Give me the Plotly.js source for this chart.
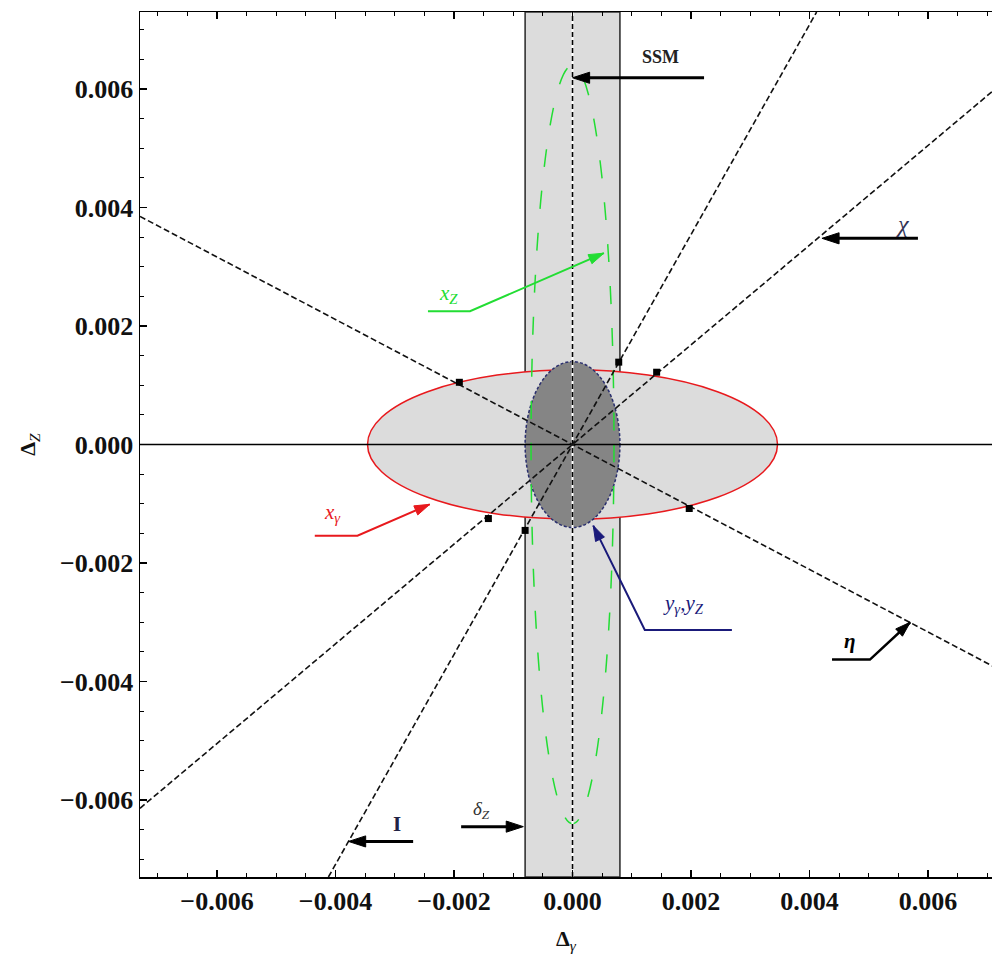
<!DOCTYPE html>
<html>
<head>
<meta charset="utf-8">
<script src="https://cdn.plot.ly/plotly-3.0.1.min.js"></script>
<style>html,body{margin:0;padding:0;background:#fff;}</style>
</head>
<body>
<div id="chart" style="width:992px;height:957px;"></div>
<script>
// ---- data ----
const axisRange = [-0.0073, 0.0073];
const xVisibleMax = 0.00708;
const tickValues = [-0.006, -0.004, -0.002, 0.000, 0.002, 0.004, 0.006];
const tickLabels = ['−0.006', '−0.004', '−0.002', '0.000', '0.002', '0.004', '0.006'];

// delta_Z band bounds
const bandX = [-0.0008, 0.0008];

// ellipses: x_gamma (red), y_gamma,y_Z (dark), x_Z (green dashed)
const ellipseNames = ['x_gamma', 'y_gamma_y_Z', 'x_Z'];
const ellipseCx = [0, 0, 0];
const ellipseCy = [0, 0, 0];
const ellipseRx = [0.00346, 0.0008, 0.0007];
const ellipseRy = [0.00126, 0.0014, 0.0064];

// dashed model lines (endpoints)
const etaX = [-0.0073, 0.0073];
const etaY = [0.00385, -0.00385];
const chiX = [-0.0073, 0.0073];
const chiY = [-0.00614, 0.00614];
const iX = [-0.00412, 0.00412];
const iY = [-0.0073, 0.0073];
const ssmX = [0, 0];
const ssmY = [-0.0073, 0.0073];
const zeroX = [-0.0073, 0.0073];
const zeroY = [0, 0];

// intersection markers
const markX = [-0.00191, 0.00197, 0.00142, -0.00142, 0.00078, -0.00080];
const markY = [0.00105, -0.00108, 0.00122, -0.00125, 0.00139, -0.00145];

// label leaders (tail ... head)
const leaderSSM_X = [0.00222, 0.0];      const leaderSSM_Y = [0.00619, 0.00619];
const leaderChi_X = [0.00583, 0.00421];  const leaderChi_Y = [0.00348, 0.00348];
const leaderXZ_X = [-0.00244, -0.00173, 0.00053]; const leaderXZ_Y = [0.00225, 0.00225, 0.00323];
const leaderXg_X = [-0.00435, -0.00363, -0.00241]; const leaderXg_Y = [-0.00154, -0.00154, -0.00101];
const leaderY_X = [0.00269, 0.00122, 0.00035]; const leaderY_Y = [-0.00313, -0.00313, -0.00137];
const leaderEta_X = [0.00438, 0.00502, 0.00570]; const leaderEta_Y = [-0.00363, -0.00363, -0.0030];
const leaderI_X = [-0.00269, -0.00378]; const leaderI_Y = [-0.0067, -0.0067];
const leaderDz_X = [-0.00188, -0.00083]; const leaderDz_Y = [-0.00645, -0.00645];

// ---- traces ----
const dashBlack = {color: '#111', width: 1.6, dash: '6px,3px'};
function leader(xs, ys, color, width, head) {
  const sizes = xs.map((_, i) => i === xs.length - 1 ? head : 0);
  return {x: xs, y: ys, mode: 'lines+markers', line: {color: color, width: width},
          marker: {symbol: 'arrow', angleref: 'previous', size: sizes, color: color, opacity: 1,
                   line: {width: 1, color: color}},
          hoverinfo: 'skip'};
}
const traces = [
  {x: zeroX, y: zeroY, mode: 'lines', line: {color: '#000', width: 1.5}, hoverinfo: 'skip'},
  {x: ssmX, y: ssmY, mode: 'lines', line: {color: '#fff', width: 2}, hoverinfo: 'skip'},
  {x: ssmX, y: ssmY, mode: 'lines', line: {color: '#000', width: 1.6, dash: '5px,3px'}, hoverinfo: 'skip'},
  {x: etaX, y: etaY, mode: 'lines', line: dashBlack, hoverinfo: 'skip'},
  {x: chiX, y: chiY, mode: 'lines', line: dashBlack, hoverinfo: 'skip'},
  {x: iX, y: iY, mode: 'lines', line: dashBlack, hoverinfo: 'skip'},
  {x: markX, y: markY, mode: 'markers', marker: {symbol: 'square', size: 7, color: '#000', opacity: 1}, hoverinfo: 'skip'},
  leader(leaderSSM_X, leaderSSM_Y, '#000', 3, 18),
  leader(leaderChi_X, leaderChi_Y, '#000', 3, 18),
  leader(leaderXZ_X, leaderXZ_Y, '#22dd33', 2, 16),
  leader(leaderXg_X, leaderXg_Y, '#e8191d', 2, 16),
  leader(leaderY_X, leaderY_Y, '#1a1a7a', 2, 16),
  leader(leaderEta_X, leaderEta_Y, '#000', 2.5, 16),
  leader(leaderI_X, leaderI_Y, '#000', 3, 18),
  leader(leaderDz_X, leaderDz_Y, '#000', 3, 18)
];

// ---- shapes ----
const shapes = [
  {type: 'rect', xref: 'x', yref: 'y', layer: 'below', x0: bandX[0], x1: bandX[1], y0: axisRange[0], y1: axisRange[1],
   fillcolor: '#dcdcdc', line: {color: '#333', width: 1.6}},
  {type: 'circle', xref: 'x', yref: 'y', layer: 'below',
   x0: ellipseCx[0] - ellipseRx[0], x1: ellipseCx[0] + ellipseRx[0], y0: ellipseCy[0] - ellipseRy[0], y1: ellipseCy[0] + ellipseRy[0],
   fillcolor: '#dcdcdc', line: {color: '#e8191d', width: 1.5}},
  {type: 'circle', xref: 'x', yref: 'y', layer: 'below',
   x0: ellipseCx[1] - ellipseRx[1], x1: ellipseCx[1] + ellipseRx[1], y0: ellipseCy[1] - ellipseRy[1], y1: ellipseCy[1] + ellipseRy[1],
   fillcolor: '#858585', line: {color: '#2a2f6e', width: 1.5, dash: '3px,2px'}},
  {type: 'circle', xref: 'x', yref: 'y', layer: 'below',
   x0: ellipseCx[2] - ellipseRx[2], x1: ellipseCx[2] + ellipseRx[2], y0: ellipseCy[2] - ellipseRy[2], y1: ellipseCy[2] + ellipseRy[2],
   fillcolor: 'rgba(0,0,0,0)', line: {color: '#22dd33', width: 1.5, dash: '18px,24px'}}
];

// ---- annotations (text labels) ----
const serif = 'Liberation Serif, Times New Roman, serif';
function label(x, y, text, color, size, bold) {
  return {x: x, y: y, xref: 'x', yref: 'y', text: bold ? '<b>' + text + '</b>' : text, showarrow: false,
          font: {family: serif, size: size, color: color}};
}
const annotations = [
  label(0.00148, 0.00654, 'SSM', '#222', 18, true),
  label(0.00558, 0.00372, '<i>χ</i>', '#333355', 24, false),
  label(-0.0021, 0.00254, '<i>x</i><sub><i>Z</i></sub>', '#22dd33', 21, false),
  label(-0.00405, -0.00115, '<i>x</i><sub><i>γ</i></sub>', '#e8191d', 21, false),
  label(0.00188, -0.00269, '<i>y</i><sub><i>γ</i></sub>,<i>y</i><sub><i>Z</i></sub>', '#1a1a7a', 21, false),
  label(0.00468, -0.00331, '<i>η</i>', '#000', 21, true),
  label(-0.00297, -0.00640, 'I', '#222244', 21, true),
  label(-0.00153, -0.00617, '<i>δ</i><sub><i>Z</i></sub>', '#333', 19, false)
];

const tickFont = {family: serif, size: 26, color: '#111'};
const axisCommon = {
  tickmode: 'array', tickvals: tickValues, ticktext: tickLabels.map(t => '<b>' + t + '</b>'),
  ticks: 'inside', ticklen: 7, tickwidth: 1.2, tickcolor: '#000',
  showline: true, linecolor: '#000', linewidth: 1.5,
  showgrid: false, zeroline: false, automargin: false,
  minor: {dtick: 0.0005, tick0: 0, ticks: 'inside', ticklen: 4, tickwidth: 1, tickcolor: '#000', showgrid: false},
  tickfont: tickFont
};

const layout = {
  width: 992, height: 957,
  margin: {l: 140, r: 0, t: 12, b: 80},
  paper_bgcolor: '#fff', plot_bgcolor: '#fff',
  showlegend: false,
  xaxis: Object.assign({}, axisCommon, {
    range: [axisRange[0], xVisibleMax], mirror: 'ticks',
    title: {text: '<b>Δ</b><sub><i>γ</i></sub>', font: {family: serif, size: 22, color: '#111'}, standoff: 16}
  }),
  yaxis: Object.assign({}, axisCommon, {
    range: axisRange, mirror: false, ticklabelstandoff: 0,
    title: {text: '<b>Δ</b><sub><i>Z</i></sub>', font: {family: serif, size: 22, color: '#111'}, standoff: 18}
  }),
  shapes: shapes,
  annotations: annotations
};

Plotly.newPlot('chart', traces, layout, {displayModeBar: false, staticPlot: true});
</script>
</body>
</html>
